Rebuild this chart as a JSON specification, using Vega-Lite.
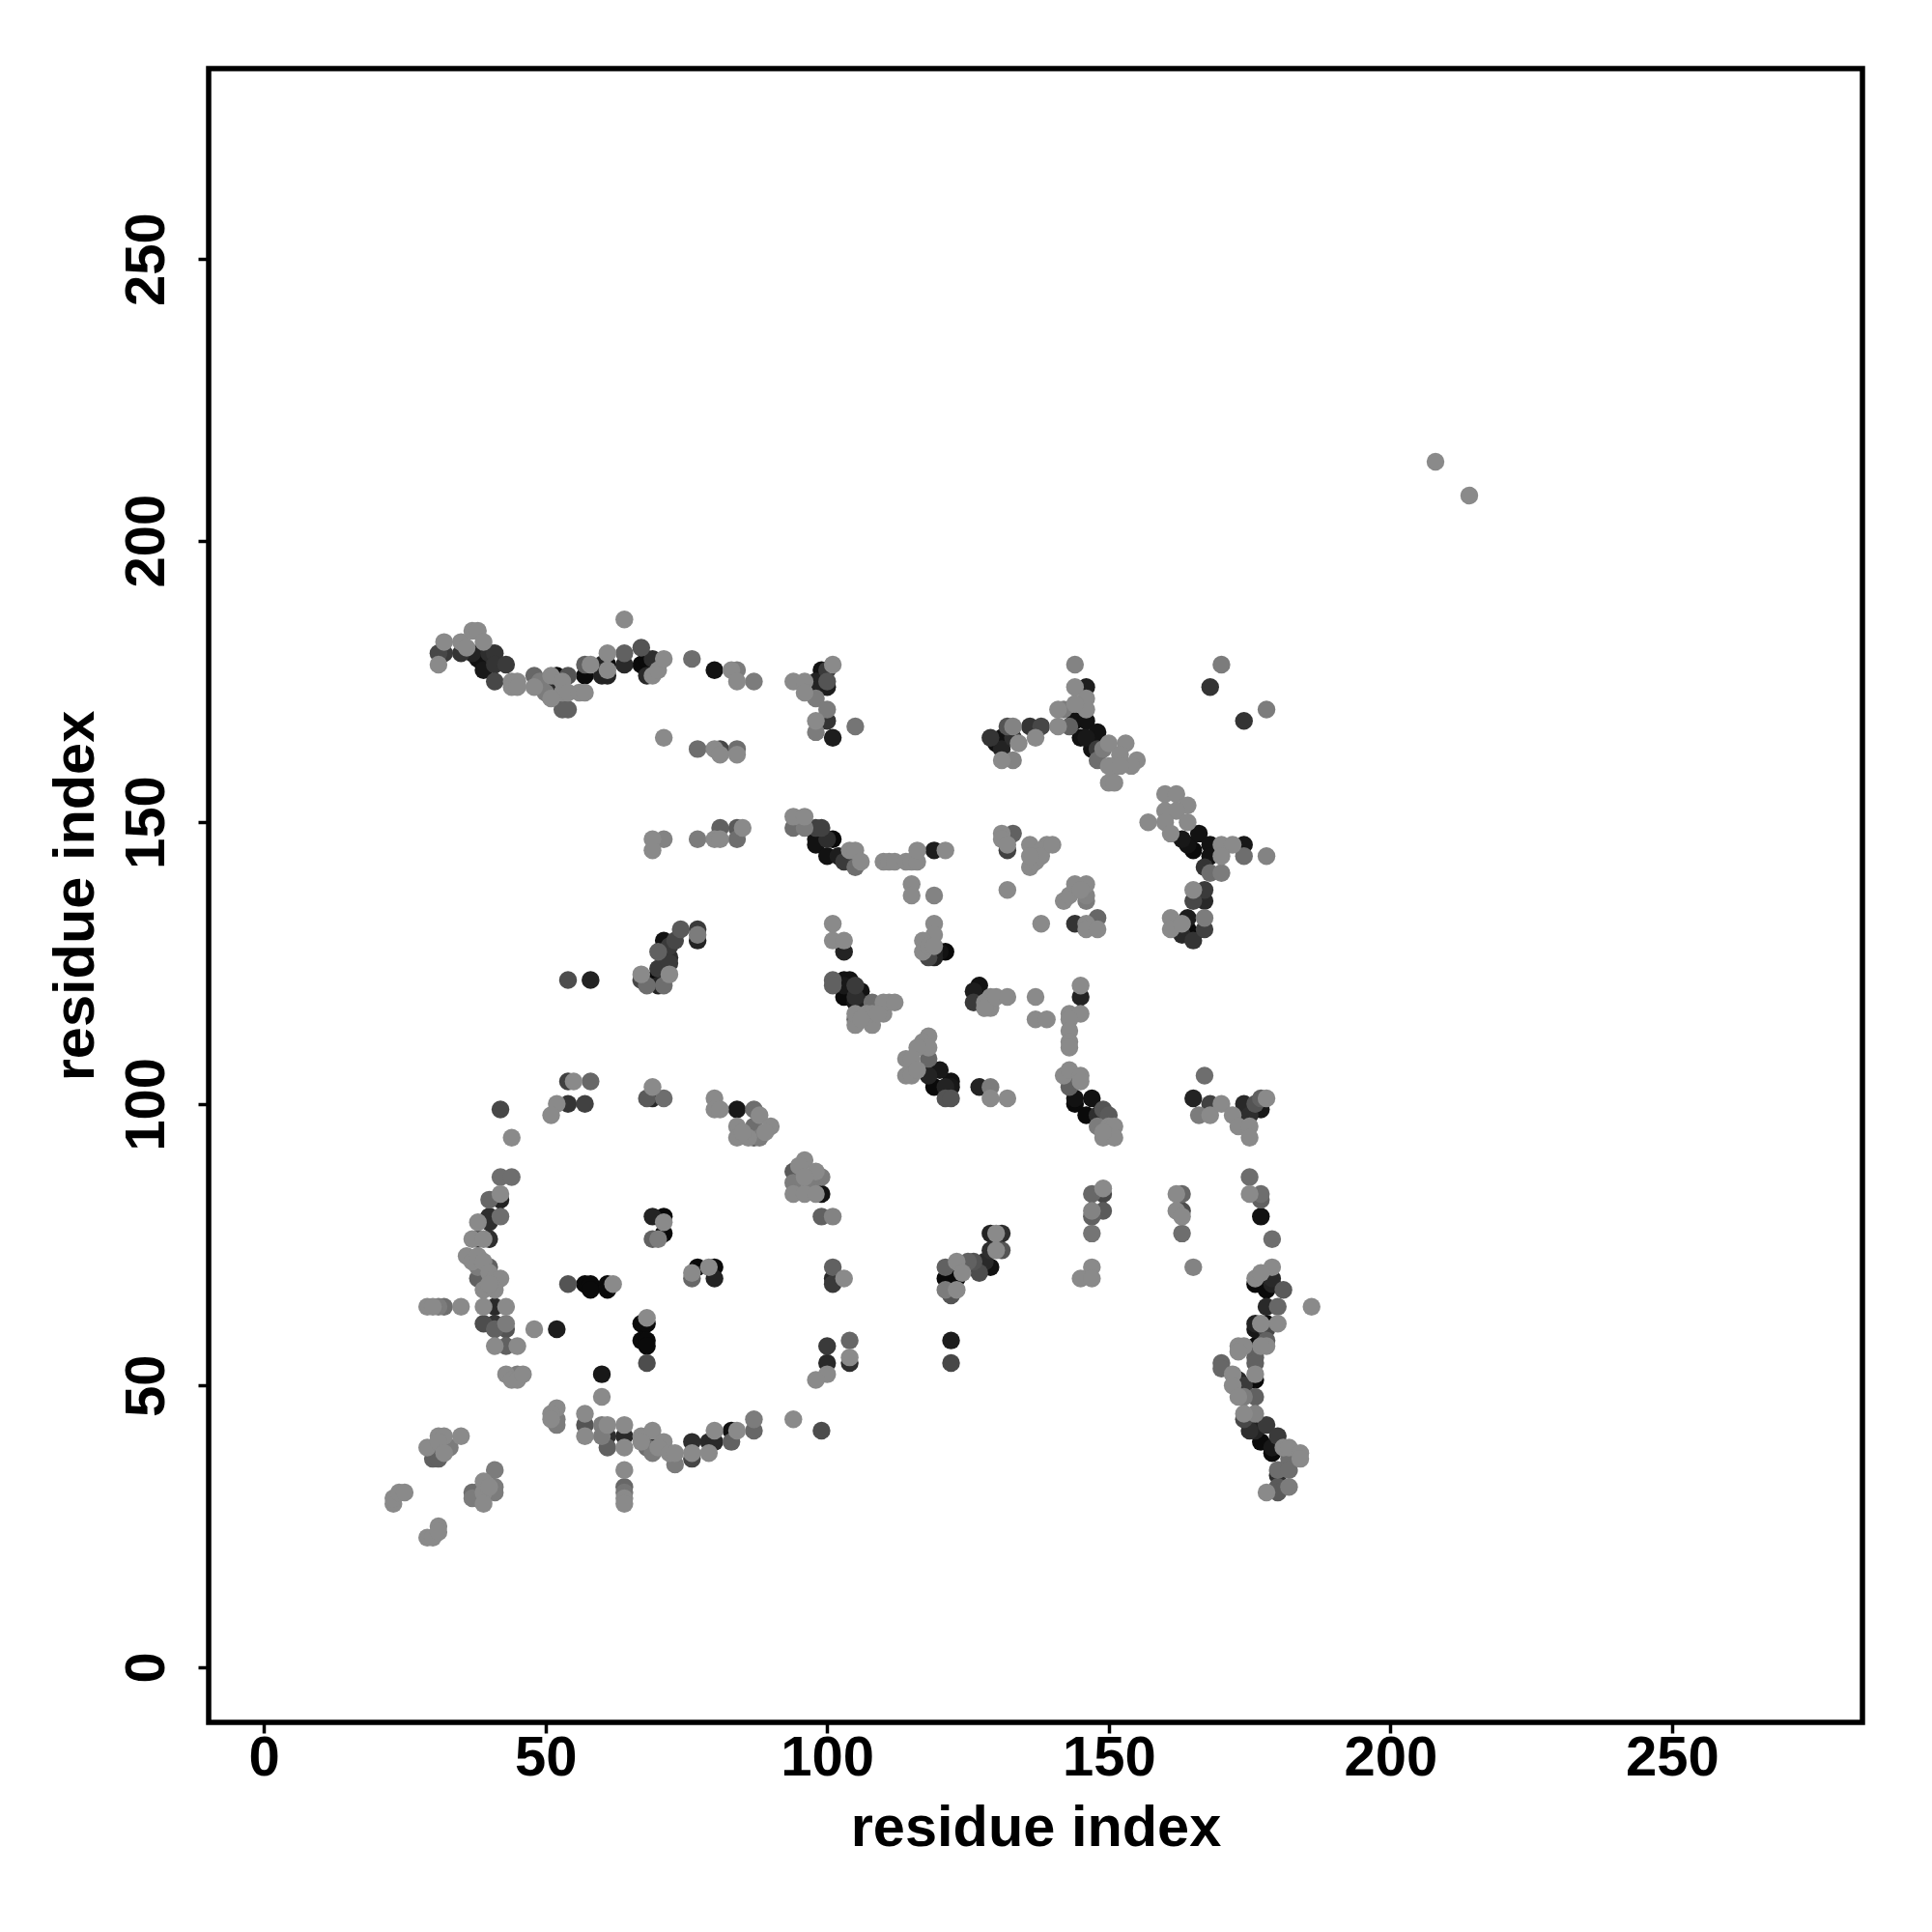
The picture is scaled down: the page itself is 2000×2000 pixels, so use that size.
{"$schema":"https://vega.github.io/schema/vega-lite/v6.json","width":1712,"height":1712,"autosize":"none","padding":{"left":216,"top":71,"right":72,"bottom":217},"background":"white",
"config":{"view":{"stroke":"black","strokeWidth":5.5,"fill":"white"},"font":"Liberation Sans"},
"data":{"values":[
{"x":42,"y":87,"c":0.2},{"x":44,"y":87,"c":0.2},{"x":40,"y":83,"c":0.25},{"x":42,"y":83,"c":0.8},{"x":42,"y":84,"c":0},{"x":40,"y":80,"c":0.7},{"x":42,"y":80,"c":0.2},{"x":38,"y":79,"c":0},{"x":40,"y":79,"c":0.7},{"x":37,"y":76,"c":0},{"x":38,"y":76,"c":0.6},{"x":39,"y":76,"c":0},{"x":40,"y":76,"c":0.7},{"x":36,"y":73,"c":0},{"x":37,"y":72,"c":0},{"x":38,"y":73,"c":0},{"x":39,"y":72,"c":0},{"x":38,"y":71,"c":0.1},{"x":40,"y":71,"c":0.3},{"x":38,"y":69,"c":0.3},{"x":39,"y":69,"c":0.9},{"x":40,"y":70,"c":0},{"x":41,"y":69,"c":0},{"x":42,"y":69,"c":0},{"x":39,"y":67,"c":0},{"x":41,"y":67,"c":0},{"x":40,"y":68,"c":0},
{"x":29,"y":64,"c":0},{"x":30,"y":64,"c":0},{"x":31,"y":64,"c":0.1},{"x":32,"y":64,"c":0.2},{"x":35,"y":64,"c":0},{"x":39,"y":64,"c":0},{"x":41,"y":64,"c":0.75},{"x":43,"y":64,"c":0},{"x":39,"y":61,"c":0.45},{"x":41,"y":61,"c":0.65},{"x":43,"y":61,"c":0.1},{"x":41,"y":60,"c":0.3},{"x":43,"y":60,"c":0.4},{"x":48,"y":60,"c":0},{"x":52,"y":60,"c":0.85},{"x":41,"y":57,"c":0},{"x":43,"y":57,"c":0.3},{"x":45,"y":57,"c":0},{"x":43,"y":52,"c":0},{"x":44,"y":51,"c":0},{"x":45,"y":51,"c":0},{"x":46,"y":52,"c":0},{"x":45,"y":52,"c":0.1},
{"x":52,"y":46,"c":0},{"x":51,"y":45,"c":0},{"x":52,"y":44,"c":0.1},{"x":51,"y":44,"c":0},{"x":52,"y":43,"c":0.1},{"x":57,"y":45,"c":0},{"x":57,"y":43,"c":0.4},{"x":57,"y":41,"c":0},{"x":60,"y":43,"c":0.1},{"x":61,"y":43,"c":0},{"x":61,"y":41,"c":0.7},{"x":60,"y":41,"c":0.1},{"x":61,"y":39,"c":0.3},{"x":64,"y":43,"c":0},{"x":64,"y":41,"c":0.75},{"x":64,"y":39,"c":0},{"x":67,"y":41,"c":0},{"x":69,"y":42,"c":0},{"x":67,"y":40,"c":0},{"x":68,"y":40,"c":0.9},{"x":69,"y":38,"c":0.1},{"x":71,"y":40,"c":0},{"x":70,"y":39,"c":0},{"x":68,"y":39,"c":0.2},{"x":72,"y":38,"c":0},{"x":73,"y":38,"c":0},{"x":73,"y":36,"c":0.1},{"x":76,"y":40,"c":0.7},{"x":76,"y":38,"c":0},{"x":76,"y":37,"c":0.5},{"x":79,"y":40,"c":0.75},{"x":80,"y":40,"c":0.75},{"x":79,"y":38,"c":0},{"x":80,"y":42,"c":0},{"x":83,"y":40,"c":0.3},{"x":83,"y":42,"c":0.95},{"x":84,"y":42,"c":0},{"x":87,"y":44,"c":0.1},{"x":87,"y":42,"c":0.25},{"x":94,"y":44,"c":0},{"x":99,"y":42,"c":0.45},
{"x":35,"y":41,"c":0},{"x":31,"y":41,"c":0},{"x":32,"y":41,"c":0},{"x":29,"y":39,"c":0},{"x":30,"y":39,"c":1},{"x":31,"y":40,"c":0},{"x":30,"y":37,"c":0.3},{"x":31,"y":37,"c":0.3},{"x":33,"y":39,"c":0.1},{"x":32,"y":38,"c":0},{"x":32,"y":39,"c":0.5},{"x":41,"y":35,"c":0.1},{"x":39,"y":33,"c":0},{"x":41,"y":32,"c":0.1},{"x":37,"y":31,"c":0.2},{"x":38,"y":31,"c":1},{"x":39,"y":31,"c":0},{"x":38,"y":30,"c":0.2},{"x":39,"y":29,"c":0},{"x":41,"y":31,"c":0.1},{"x":40,"y":32,"c":0},{"x":37,"y":30,"c":0.1},{"x":64,"y":35,"c":0},{"x":64,"y":32,"c":0.25},{"x":64,"y":31,"c":0.15},{"x":64,"y":30,"c":0},{"x":64,"y":29,"c":0},{"x":23,"y":29,"c":0},{"x":23,"y":30,"c":0},{"x":24,"y":31,"c":0},{"x":25,"y":31,"c":0},{"x":29,"y":23,"c":0},{"x":30,"y":23,"c":0},{"x":31,"y":25,"c":0},{"x":31,"y":24,"c":0},
{"x":69,"y":80,"c":0.8},{"x":71,"y":80,"c":1},{"x":71,"y":79,"c":0},{"x":71,"y":77,"c":1},{"x":69,"y":76,"c":0.3},{"x":70,"y":76,"c":0.1},{"x":77,"y":71,"c":1},{"x":79,"y":71,"c":0},{"x":80,"y":71,"c":1},{"x":76,"y":70,"c":0},{"x":76,"y":69,"c":0.25},{"x":80,"y":69,"c":0.8},{"x":54,"y":68,"c":0.4},{"x":57,"y":68,"c":1},{"x":58,"y":68,"c":1},{"x":58,"y":67,"c":1},{"x":61,"y":68,"c":1},{"x":61,"y":67,"c":1},{"x":62,"y":68,"c":0},{"x":68,"y":62,"c":0},{"x":67,"y":61,"c":1},{"x":68,"y":61,"c":1},{"x":67,"y":58,"c":1},{"x":68,"y":58,"c":1},{"x":68,"y":57,"c":1},{"x":68,"y":54,"c":0.45},{"x":60,"y":52,"c":0.9},{"x":60,"y":48,"c":0},
{"x":99,"y":84,"c":0.95},{"x":99,"y":87,"c":0.1},{"x":99,"y":80,"c":0.3},{"x":101,"y":80,"c":0.05},{"x":101,"y":71,"c":0.3},{"x":101,"y":69,"c":0.75},{"x":101,"y":68,"c":0.6},{"x":103,"y":69,"c":0},{"x":100,"y":57,"c":0.6},{"x":100,"y":54,"c":0.75},{"x":100,"y":52,"c":0},{"x":98,"y":51,"c":0},{"x":104,"y":58,"c":0.25},{"x":104,"y":55,"c":0},{"x":104,"y":54,"c":0.7},
{"x":69,"y":147,"c":0},{"x":71,"y":147,"c":0.05},{"x":69,"y":145,"c":0},{"x":77,"y":147,"c":0.1},{"x":80,"y":147,"c":0},{"x":81,"y":149,"c":0.3},{"x":81,"y":147,"c":0},{"x":84,"y":147,"c":0.2},{"x":84,"y":149,"c":0.35},{"x":85,"y":149,"c":0},{"x":94,"y":151,"c":0},{"x":96,"y":151,"c":0},{"x":94,"y":149,"c":0.2},{"x":96,"y":149,"c":0.1},{"x":98,"y":149,"c":0.55},{"x":99,"y":149,"c":0.55},{"x":98,"y":147,"c":0.95},{"x":98,"y":146,"c":0.95},{"x":101,"y":147,"c":1},{"x":100,"y":147,"c":0.7},{"x":100,"y":144,"c":0.95},{"x":102,"y":144,"c":0.85},{"x":104,"y":145,"c":0},{"x":105,"y":145,"c":0},{"x":106,"y":143,"c":0},{"x":105,"y":142,"c":0.2},{"x":103,"y":143,"c":0.6},{"x":110,"y":143,"c":0},
{"x":54,"y":122,"c":0.45},{"x":58,"y":122,"c":0.8},{"x":67,"y":123,"c":0},{"x":67,"y":122,"c":0.5},{"x":68,"y":121,"c":0.2},{"x":69,"y":122,"c":1},{"x":70,"y":121,"c":0.8},{"x":71,"y":121,"c":0.2},{"x":70,"y":124,"c":0.6},{"x":72,"y":123,"c":0},{"x":72,"y":125,"c":0.6},{"x":72,"y":126,"c":0.7},{"x":70,"y":127,"c":0.3},{"x":71,"y":129,"c":0.95},{"x":72,"y":128,"c":0.6},{"x":73,"y":129,"c":0.5},{"x":74,"y":131,"c":0.35},{"x":77,"y":131,"c":0.6},{"x":77,"y":129,"c":0.8},{"x":77,"y":130,"c":0.1},
{"x":54,"y":104,"c":0.55},{"x":55,"y":104,"c":0},{"x":58,"y":104,"c":0.25},{"x":52,"y":100,"c":0},{"x":54,"y":100,"c":0.65},{"x":57,"y":100,"c":0.55},{"x":51,"y":98,"c":0},{"x":68,"y":101,"c":0.35},{"x":69,"y":101,"c":0.75},{"x":69,"y":103,"c":0},{"x":71,"y":101,"c":0.2},{"x":42,"y":99,"c":0.5},{"x":44,"y":94,"c":0},{"x":80,"y":101,"c":0},{"x":80,"y":99,"c":0},{"x":81,"y":99,"c":0},{"x":84,"y":99,"c":0.9},{"x":87,"y":99,"c":0.2},{"x":88,"y":98,"c":0},{"x":84,"y":96,"c":0},{"x":84,"y":94,"c":0},{"x":87,"y":96,"c":0.2},{"x":87,"y":94,"c":0.3},{"x":88,"y":94,"c":0.1},{"x":90,"y":96,"c":0},{"x":89,"y":95,"c":0},{"x":86,"y":94,"c":0},{"x":85,"y":95,"c":0},
{"x":96,"y":90,"c":0},{"x":94,"y":88,"c":0.35},{"x":98,"y":88,"c":0},{"x":95,"y":89,"c":0},{"x":94,"y":86,"c":0.1},{"x":94,"y":84,"c":0},{"x":96,"y":84,"c":0},{"x":98,"y":84,"c":0},{"x":96,"y":87,"c":0},{"x":97,"y":86,"c":0.1},
{"x":101,"y":132,"c":0},{"x":101,"y":129,"c":0},{"x":103,"y":129,"c":0},{"x":103,"y":127,"c":0.8},{"x":101,"y":122,"c":0.3},{"x":101,"y":121,"c":0.3},{"x":103,"y":122,"c":0.95},{"x":104,"y":122,"c":0.95},{"x":103,"y":119,"c":1},{"x":103,"y":121,"c":0.9},{"x":106,"y":120,"c":0.95},{"x":105,"y":121,"c":0.6},{"x":105,"y":119,"c":0.7},{"x":106,"y":118,"c":0.8},{"x":105,"y":118,"c":0.9},{"x":105,"y":114,"c":0},{"x":105,"y":115,"c":0.2},{"x":105,"y":116,"c":0},{"x":108,"y":118,"c":0.2},{"x":108,"y":114,"c":0},{"x":110,"y":116,"c":0},{"x":111,"y":118,"c":0},{"x":107,"y":116,"c":0},{"x":108,"y":116,"c":0},{"x":110,"y":118,"c":0},{"x":112,"y":118,"c":0},{"x":109,"y":116,"c":0},{"x":106,"y":115,"c":0},
{"x":31,"y":178,"c":0},{"x":31,"y":180,"c":0.5},{"x":32,"y":180,"c":0.6},{"x":32,"y":182,"c":0},{"x":35,"y":182,"c":0},{"x":35,"y":180,"c":0.65},{"x":36,"y":181,"c":0},{"x":37,"y":184,"c":0},{"x":38,"y":184,"c":0},{"x":37,"y":180,"c":0.8},{"x":39,"y":182,"c":0},{"x":38,"y":179,"c":0.95},{"x":40,"y":180,"c":0.7},{"x":41,"y":180,"c":0.65},{"x":39,"y":177,"c":0.9},{"x":41,"y":178,"c":0.65},{"x":43,"y":178,"c":0.6},{"x":41,"y":175,"c":0.5},{"x":44,"y":175,"c":0},{"x":44,"y":174,"c":0},{"x":45,"y":175,"c":0},{"x":45,"y":174,"c":0},{"x":48,"y":176,"c":0.25},{"x":48,"y":174,"c":0},{"x":49,"y":175,"c":0.1},{"x":51,"y":176,"c":0},{"x":52,"y":176,"c":1},{"x":51,"y":173,"c":0.75},{"x":50,"y":173,"c":0.1},{"x":54,"y":176,"c":0.4},{"x":53,"y":173,"c":0},{"x":51,"y":172,"c":0},{"x":53,"y":170,"c":0.3},{"x":54,"y":170,"c":0.3},{"x":53,"y":175,"c":0},{"x":54,"y":173,"c":0},{"x":56,"y":173,"c":0},{"x":57,"y":173,"c":0},{"x":57,"y":176,"c":1},{"x":57,"y":178,"c":0.3},{"x":58,"y":178,"c":0},{"x":60,"y":178,"c":0.8},{"x":61,"y":178,"c":1},{"x":61,"y":180,"c":0},{"x":60,"y":176,"c":0.8},{"x":61,"y":176,"c":0.8},{"x":61,"y":177,"c":0},{"x":64,"y":180,"c":0.3},{"x":64,"y":178,"c":0.75},{"x":67,"y":181,"c":0.4},{"x":67,"y":178,"c":1},{"x":68,"y":179,"c":1},{"x":68,"y":176,"c":0.75},{"x":69,"y":179,"c":0.7},{"x":69,"y":176,"c":0},{"x":70,"y":177,"c":0},{"x":71,"y":179,"c":0},{"x":64,"y":186,"c":0},{"x":76,"y":179,"c":0.2},{"x":80,"y":177,"c":0.95},{"x":83,"y":177,"c":0},{"x":84,"y":177,"c":0.1},{"x":84,"y":175,"c":0},{"x":87,"y":175,"c":0.1},
{"x":94,"y":175,"c":0},{"x":96,"y":175,"c":0},{"x":96,"y":173,"c":0},{"x":98,"y":172,"c":0.1},{"x":98,"y":175,"c":0.8},{"x":99,"y":177,"c":0.95},{"x":100,"y":177,"c":0.6},{"x":101,"y":178,"c":0},{"x":98,"y":174,"c":0.85},{"x":100,"y":174,"c":0.85},{"x":100,"y":175,"c":0.4},{"x":100,"y":170,"c":0.1},{"x":98,"y":168,"c":0},{"x":100,"y":168,"c":0.65},{"x":98,"y":166,"c":0.1},{"x":101,"y":165,"c":0.85},{"x":105,"y":167,"c":0.15},{"x":71,"y":165,"c":0},{"x":77,"y":163,"c":0.2},{"x":80,"y":163,"c":0},{"x":81,"y":163,"c":0.5},{"x":81,"y":162,"c":0},{"x":84,"y":163,"c":0.2},{"x":84,"y":162,"c":0},
{"x":144,"y":178,"c":0.05},{"x":146,"y":174,"c":0.85},{"x":144,"y":174,"c":0},{"x":146,"y":172,"c":0},{"x":146,"y":170,"c":0},{"x":144,"y":171,"c":0},{"x":129,"y":165,"c":0.65},{"x":131,"y":165,"c":0.95},{"x":130,"y":164,"c":0.95},{"x":131,"y":163,"c":0.8},{"x":131,"y":161,"c":0},{"x":133,"y":161,"c":0.05},{"x":132,"y":167,"c":0.4},{"x":133,"y":167,"c":0.05},{"x":134,"y":164,"c":0},{"x":133,"y":165,"c":0.7},{"x":136,"y":167,"c":0.65},{"x":138,"y":167,"c":0.5},{"x":137,"y":165,"c":0},{"x":141,"y":170,"c":0},{"x":141,"y":167,"c":0},{"x":142,"y":170,"c":0.1},{"x":143,"y":167,"c":0.3},{"x":144,"y":168,"c":0.95},{"x":146,"y":168,"c":0.95},{"x":148,"y":166,"c":0.95},{"x":145,"y":165,"c":0.95},{"x":146,"y":165,"c":0.9},{"x":147,"y":163,"c":0.95},{"x":148,"y":161,"c":0.2},{"x":148,"y":163,"c":0.6},{"x":150,"y":164,"c":0},{"x":153,"y":164,"c":0},{"x":149,"y":163,"c":0.1},{"x":151,"y":160,"c":0},{"x":155,"y":161,"c":0},{"x":154,"y":160,"c":0},{"x":150,"y":157,"c":0},{"x":151,"y":157,"c":0},{"x":152,"y":162,"c":0},{"x":150,"y":160,"c":0},{"x":152,"y":160,"c":0},
{"x":157,"y":150,"c":0},{"x":160,"y":155,"c":0},{"x":162,"y":155,"c":0},{"x":164,"y":153,"c":0},{"x":160,"y":152,"c":0},{"x":162,"y":152,"c":0},{"x":160,"y":150,"c":0},{"x":164,"y":150,"c":0},{"x":161,"y":148,"c":0},{"x":163,"y":147,"c":0.9},{"x":164,"y":146,"c":0.95},{"x":166,"y":148,"c":0.95},{"x":165,"y":145,"c":1},{"x":168,"y":146,"c":0.95},{"x":170,"y":146,"c":0},{"x":172,"y":146,"c":0},{"x":174,"y":146,"c":0.9},{"x":174,"y":144,"c":0.2},{"x":178,"y":144,"c":0.05},{"x":170,"y":144,"c":0},{"x":168,"y":144,"c":0.95},{"x":170,"y":141,"c":0.1},{"x":167,"y":142,"c":0.65},{"x":168,"y":141,"c":0.2},{"x":167,"y":138,"c":0.6},{"x":167,"y":136,"c":0.75},{"x":165,"y":138,"c":0},{"x":165,"y":136,"c":0.5},{"x":167,"y":133,"c":0.1},{"x":167,"y":131,"c":0.55},{"x":161,"y":133,"c":0},{"x":161,"y":131,"c":0},{"x":163,"y":132,"c":0},{"x":164,"y":131,"c":1},{"x":165,"y":130,"c":1},{"x":165,"y":129,"c":0.65},{"x":163,"y":130,"c":0.75},{"x":164,"y":133,"c":0.85},{"x":168,"y":174,"c":0.65},{"x":170,"y":178,"c":0.1},{"x":174,"y":168,"c":0.65},{"x":178,"y":170,"c":0.1},
{"x":111,"y":143,"c":0},{"x":112,"y":143,"c":0},{"x":114,"y":143,"c":0},{"x":115,"y":143,"c":0},{"x":116,"y":143,"c":0},{"x":116,"y":145,"c":0},{"x":119,"y":145,"c":0.85},{"x":121,"y":145,"c":0},{"x":115,"y":139,"c":0},{"x":115,"y":137,"c":0},{"x":119,"y":137,"c":0.05},{"x":119,"y":132,"c":0},{"x":119,"y":130,"c":0},{"x":117,"y":129,"c":0},{"x":117,"y":127,"c":0},{"x":118,"y":126,"c":0.5},{"x":119,"y":127,"c":0.8},{"x":120,"y":127,"c":0.95},{"x":121,"y":127,"c":1},{"x":119,"y":126,"c":0.8},{"x":118,"y":128,"c":0},{"x":119,"y":128,"c":0},
{"x":133,"y":148,"c":0.3},{"x":131,"y":148,"c":0},{"x":131,"y":147,"c":0},{"x":132,"y":145,"c":0.55},{"x":132,"y":146,"c":0},{"x":136,"y":146,"c":0},{"x":139,"y":146,"c":0},{"x":138,"y":145,"c":0},{"x":136,"y":142,"c":0},{"x":137,"y":143,"c":0},{"x":138,"y":144,"c":0},{"x":140,"y":146,"c":0},{"x":136,"y":144,"c":0},{"x":132,"y":138,"c":0},{"x":138,"y":132,"c":0},{"x":142,"y":136,"c":0},{"x":143,"y":137,"c":0},{"x":144,"y":139,"c":0},{"x":146,"y":139,"c":0},{"x":146,"y":137,"c":0.05},{"x":146,"y":136,"c":0.1},{"x":145,"y":138,"c":0},{"x":144,"y":132,"c":0.65},{"x":148,"y":133,"c":0.25},{"x":146,"y":132,"c":0},{"x":146,"y":131,"c":0},{"x":148,"y":131,"c":0},
{"x":127,"y":121,"c":0.95},{"x":126,"y":120,"c":0.85},{"x":126,"y":118,"c":0.6},{"x":129,"y":119,"c":0},{"x":128,"y":118,"c":0},{"x":129,"y":117,"c":0},{"x":128,"y":117,"c":0},{"x":130,"y":119,"c":0},{"x":132,"y":119,"c":0},{"x":137,"y":119,"c":0},{"x":137,"y":115,"c":0},{"x":139,"y":115,"c":0},{"x":145,"y":121,"c":0},{"x":145,"y":119,"c":0.8},{"x":143,"y":116,"c":0},{"x":145,"y":116,"c":0},{"x":143,"y":115,"c":0},{"x":143,"y":113,"c":0},{"x":143,"y":111,"c":0},{"x":143,"y":110,"c":0},
{"x":118,"y":112,"c":0},{"x":117,"y":111,"c":0},{"x":118,"y":110,"c":0},{"x":116,"y":110,"c":0},{"x":114,"y":108,"c":0},{"x":115,"y":108,"c":0},{"x":118,"y":108,"c":0.25},{"x":114,"y":105,"c":0},{"x":115,"y":105,"c":0},{"x":116,"y":106,"c":0},{"x":118,"y":106,"c":1},{"x":120,"y":106,"c":0.9},{"x":118,"y":105,"c":0.8},{"x":119,"y":103,"c":1},{"x":122,"y":104,"c":0.95},{"x":122,"y":103,"c":0.9},{"x":121,"y":103,"c":0.8},{"x":121,"y":101,"c":0.4},{"x":122,"y":101,"c":0.4},{"x":127,"y":103,"c":0.8},{"x":129,"y":103,"c":0.1},{"x":129,"y":101,"c":0},{"x":132,"y":101,"c":0},
{"x":142,"y":105,"c":0},{"x":143,"y":106,"c":0},{"x":143,"y":105,"c":0.8},{"x":145,"y":105,"c":0},{"x":145,"y":104,"c":0},{"x":143,"y":103,"c":0.3},{"x":144,"y":100,"c":1},{"x":147,"y":101,"c":0.95},{"x":144,"y":101,"c":0.95},{"x":146,"y":98,"c":1},{"x":149,"y":99,"c":0.4},{"x":148,"y":96,"c":0.1},{"x":150,"y":96,"c":0},{"x":151,"y":96,"c":0},{"x":149,"y":94,"c":0},{"x":151,"y":94,"c":0},{"x":149,"y":95,"c":0},{"x":150,"y":98,"c":0.35},{"x":148,"y":98,"c":0.7},
{"x":167,"y":105,"c":0.2},{"x":165,"y":101,"c":0.8},{"x":166,"y":98,"c":0.1},{"x":168,"y":98,"c":0},{"x":168,"y":100,"c":0.55},{"x":170,"y":100,"c":0},{"x":172,"y":98,"c":0},{"x":174,"y":100,"c":0.75},{"x":174,"y":98,"c":0.8},{"x":173,"y":96,"c":0},{"x":175,"y":96,"c":0},{"x":175,"y":94,"c":0},{"x":175,"y":98,"c":0.7},{"x":176,"y":100,"c":0.4},{"x":177,"y":99,"c":0.9},{"x":177,"y":101,"c":0.3},{"x":178,"y":101,"c":0},
{"x":175,"y":87,"c":0.2},{"x":175,"y":84,"c":0},{"x":177,"y":84,"c":0.2},{"x":177,"y":83,"c":0.3},{"x":177,"y":80,"c":0.95},{"x":179,"y":76,"c":0.2},{"x":149,"y":85,"c":0},{"x":147,"y":84,"c":0.25},{"x":149,"y":84,"c":0.5},{"x":147,"y":81,"c":0.05},{"x":149,"y":81,"c":0.35},{"x":147,"y":80,"c":0.3},{"x":147,"y":77,"c":0.15},{"x":162,"y":84,"c":0},{"x":163,"y":84,"c":0.25},{"x":162,"y":81,"c":0},{"x":163,"y":81,"c":0.45},{"x":163,"y":80,"c":0},{"x":163,"y":77,"c":0.2},{"x":147,"y":71,"c":0},{"x":145,"y":69,"c":0},{"x":147,"y":69,"c":0},{"x":165,"y":71,"c":0.05},
{"x":129,"y":77,"c":0.8},{"x":131,"y":77,"c":0.7},{"x":130,"y":77,"c":0},{"x":131,"y":74,"c":0.4},{"x":130,"y":74,"c":0},{"x":129,"y":74,"c":0.7},{"x":129,"y":71,"c":0.95},{"x":128,"y":72,"c":0.75},{"x":127,"y":70,"c":0.45},{"x":126,"y":72,"c":0.4},{"x":125,"y":72,"c":0.3},{"x":123,"y":72,"c":0},{"x":121,"y":71,"c":0.3},{"x":121,"y":69,"c":1},{"x":123,"y":69,"c":1},{"x":121,"y":67,"c":0.1},{"x":123,"y":67,"c":0},{"x":122,"y":66,"c":0.4},{"x":124,"y":70,"c":0},{"x":122,"y":58,"c":0.85},{"x":122,"y":54,"c":0.5},
{"x":179,"y":71,"c":0},{"x":179,"y":69,"c":0.75},{"x":176,"y":69,"c":0},{"x":176,"y":68,"c":1},{"x":177,"y":70,"c":0},{"x":178,"y":69,"c":1},{"x":178,"y":67,"c":1},{"x":181,"y":67,"c":0.35},{"x":179,"y":68,"c":0.8},{"x":178,"y":64,"c":0.75},{"x":180,"y":64,"c":0.25},{"x":186,"y":64,"c":0},{"x":180,"y":61,"c":0},{"x":178,"y":61,"c":1},{"x":176,"y":61,"c":0.8},{"x":176,"y":60,"c":0.9},{"x":177,"y":61,"c":0},{"x":178,"y":60,"c":0.5},{"x":178,"y":57,"c":0},{"x":176,"y":57,"c":1},{"x":178,"y":58,"c":0.3},{"x":177,"y":57,"c":0},{"x":173,"y":57,"c":0},{"x":174,"y":57,"c":0},{"x":173,"y":56,"c":0},{"x":176,"y":55,"c":0.3},{"x":176,"y":54,"c":0.3},{"x":176,"y":52,"c":0},{"x":176,"y":51,"c":1},{"x":170,"y":54,"c":0.25},{"x":170,"y":53,"c":0.25},{"x":172,"y":52,"c":0},{"x":173,"y":51,"c":0.75},{"x":172,"y":50,"c":0},{"x":174,"y":50,"c":0.6},{"x":173,"y":48,"c":0},{"x":176,"y":48,"c":0.3},{"x":174,"y":48,"c":0.1},{"x":174,"y":45,"c":0},{"x":176,"y":45,"c":0.05},{"x":174,"y":44,"c":0.5},{"x":175,"y":42,"c":0.7},{"x":176,"y":42,"c":0.8},{"x":178,"y":43,"c":0.6},{"x":177,"y":40,"c":1},{"x":180,"y":41,"c":0.6},{"x":179,"y":38,"c":1},{"x":179,"y":39,"c":0.9},{"x":181,"y":39,"c":0},{"x":182,"y":39,"c":0},{"x":182,"y":37,"c":0.2},{"x":184,"y":38,"c":0},{"x":184,"y":37,"c":0},{"x":180,"y":35,"c":0.2},{"x":182,"y":35,"c":0.2},{"x":180,"y":32,"c":0.35},{"x":178,"y":31,"c":0},{"x":180,"y":31,"c":0.35},{"x":182,"y":32,"c":0.1},{"x":180,"y":34,"c":0.7},
{"x":208,"y":214,"c":0},{"x":214,"y":208,"c":0}
]},
"mark":{"type":"point","shape":"circle","filled":true,"size":340,"opacity":1,"strokeWidth":0},
"encoding":{
"x":{"field":"x","type":"quantitative","scale":{"domain":[-9.8,283.8],"nice":false,"zero":false},"axis":{"values":[0,50,100,150,200,250],"grid":false,"domain":false,"tickColor":"black","tickWidth":3.5,"tickSize":11,"labelFont":"Liberation Sans","labelFontWeight":"bold","labelFontSize":58,"labelColor":"black","labelPadding":-3,"labelAngle":0,"title":"residue index","titleFont":"Liberation Sans","titleFontWeight":"bold","titleFontSize":59.5,"titleColor":"black","titlePadding":14}},
"y":{"field":"y","type":"quantitative","scale":{"domain":[-9.8,283.8],"nice":false,"zero":false},"axis":{"values":[0,50,100,150,200,250],"grid":false,"domain":false,"tickColor":"black","tickWidth":3.5,"tickSize":11,"labelFont":"Liberation Sans","labelFontWeight":"bold","labelFontSize":58,"labelColor":"black","labelPadding":24,"labelAngle":270,"labelAlign":"center","labelBaseline":"bottom","title":"residue index","titleFont":"Liberation Sans","titleFontWeight":"bold","titleFontSize":59.5,"titleColor":"black","titlePadding":15}},
"color":{"field":"c","type":"quantitative","legend":null,"scale":{"domain":[0,1],"range":["#8a8a8a","#0a0a0a"]}},
"order":{"field":"c","sort":"descending"}
}}
